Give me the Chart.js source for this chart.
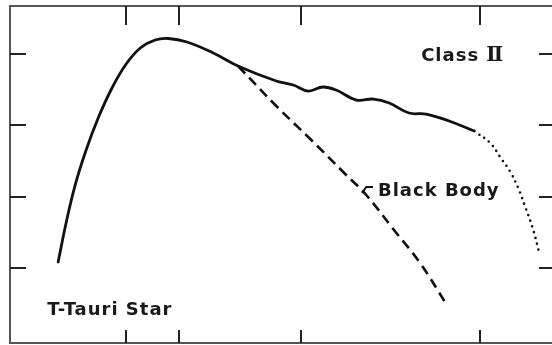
<!DOCTYPE html>
<html>
<head>
<meta charset="utf-8">
<script src="https://cdn.jsdelivr.net/npm/chart.js@4/dist/chart.umd.min.js"></script>
<style>
  html, body { margin: 0; padding: 0; background: #fff; overflow: hidden; }
  #wrap { width: 552px; height: 345px; overflow: hidden; position: relative; }
  #wrap canvas { position: absolute; left: 0; top: 0; }
</style>
</head>
<body>
<div id="wrap"><canvas id="sed" width="562" height="356"></canvas></div>
<script>
// Observed T-Tauri spectral energy distribution (log wavelength, log flux; tick units)
const sedLogLambda = [-0.192, -0.169, -0.144, -0.113, -0.079, -0.040, 0.000, 0.040, 0.082, 0.119,
                      0.172, 0.246, 0.322, 0.424, 0.472, 0.514, 0.556, 0.593, 0.650, 0.698,
                      0.743, 0.799, 0.847, 0.912, 0.983];
const sedLogFlux   = [0.084, 0.645, 1.164, 1.655, 2.104, 2.525, 2.861, 3.086, 3.198, 3.219,
                      3.170, 3.015, 2.819, 2.623, 2.567, 2.482, 2.539, 2.496, 2.356, 2.370,
                      2.314, 2.174, 2.160, 2.062, 1.921];

// Extrapolated far-infrared fall-off (dotted)
const farIrLogLambda = [0.983, 1.028, 1.056, 1.085, 1.107, 1.127, 1.147, 1.161, 1.167];
const farIrLogFlux   = [1.921, 1.753, 1.557, 1.346, 1.122, 0.856, 0.575, 0.323, 0.182];

// Stellar black body (dashed)
const blackBodyLogLambda = [0.316, 0.424, 0.520, 0.613, 0.678, 0.754, 0.828, 0.904];
const blackBodyLogFlux   = [2.833, 2.272, 1.809, 1.346, 1.024, 0.547, 0.084, -0.505];

// Leader from the black-body curve to its label
const leaderLogLambda = [0.666, 0.678, 0.697];
const leaderLogFlux   = [1.052, 1.136, 1.136];

// Tick marks (unlabelled)
const xTickValues = [0, 0.15, 0.494, 1.0];
const yTickValues = [0, 1, 2, 3];

// Annotation texts: [main text, roman numeral suffix]
const noteTexts = [['Class ', '\u2161'], ['Black Body', ''], ['T-Tauri Star', '']];

const toPoints = (xs, ys) => xs.map((v, i) => ({ x: v, y: ys[i] }));

const framePlugin = {
  id: 'frame',
  afterDatasetsDraw(chart, args, opts) {
    const { ctx, chartArea: a, scales: { x, y } } = chart;
    ctx.save();
    // box
    ctx.strokeStyle = opts.frameColor;
    ctx.lineWidth = 2;
    ctx.strokeRect(a.left, a.top, a.right - a.left, a.bottom - a.top);
    // inward ticks
    ctx.strokeStyle = opts.tickColor;
    ctx.lineWidth = 2;
    ctx.beginPath();
    xTickValues.forEach(v => {
      const px = Math.round(x.getPixelForValue(v));
      ctx.moveTo(px, a.top); ctx.lineTo(px, a.top + opts.topTick);
      ctx.moveTo(px, a.bottom); ctx.lineTo(px, a.bottom - opts.bottomTick);
    });
    yTickValues.forEach(v => {
      const py = Math.round(y.getPixelForValue(v));
      ctx.moveTo(a.left, py); ctx.lineTo(a.left + opts.sideTick, py);
      ctx.moveTo(a.right, py); ctx.lineTo(a.right - opts.sideTick, py);
    });
    ctx.stroke();
    // annotations
    ctx.fillStyle = opts.textColor;
    ctx.textAlign = 'left';
    ctx.textBaseline = 'alphabetic';
    noteTexts.forEach(([main, numeral], i) => {
      const at = opts.anchors[i];
      const px = x.getPixelForValue(at[0]);
      const py = y.getPixelForValue(at[1]);
      ctx.font = opts.font;
      ctx.letterSpacing = opts.letterSpacing;
      ctx.fillText(main, px, py);
      if (numeral) {
        const w = ctx.measureText(main).width;
        ctx.font = opts.numeralFont;
        ctx.letterSpacing = '0px';
        ctx.fillText(numeral, px + w, py);
      }
    });
    ctx.restore();
  }
};

new Chart(document.getElementById('sed'), {
  type: 'line',
  data: {
    datasets: [
      {
        label: 'T-Tauri Star',
        data: toPoints(sedLogLambda, sedLogFlux),
        borderColor: '#111',
        borderWidth: 2.8,
        pointRadius: 0,
        tension: 0.4,
        borderCapStyle: 'round'
      },
      {
        label: 'far-IR',
        data: toPoints(farIrLogLambda, farIrLogFlux),
        borderColor: '#111',
        borderWidth: 2.6,
        borderDash: [0, 6],
        borderCapStyle: 'round',
        pointRadius: 0,
        tension: 0.4
      },
      {
        label: 'Black Body',
        data: toPoints(blackBodyLogLambda, blackBodyLogFlux),
        borderColor: '#111',
        borderWidth: 2.6,
        borderDash: [10, 6],
        pointRadius: 0,
        tension: 0.4
      },
      {
        label: 'leader',
        data: toPoints(leaderLogLambda, leaderLogFlux),
        borderColor: '#111',
        borderWidth: 2,
        pointRadius: 0,
        tension: 0
      }
    ]
  },
  options: {
    responsive: false,
    animation: false,
    devicePixelRatio: 1,
    events: [],
    layout: { padding: { left: 10, top: 6, right: 7, bottom: 13 } },
    plugins: {
      legend: { display: false },
      tooltip: { enabled: false },
      frame: {
        frameColor: '#555',
        tickColor: '#222',
        topTick: 19,
        bottomTick: 13,
        sideTick: 16,
        textColor: '#1a1a1a',
        font: 'bold 18px "DejaVu Sans"',
        numeralFont: 'bold 20px "DejaVu Serif"',
        letterSpacing: '1px',
        anchors: [[0.833, 2.903], [0.711, 1.010], [-0.223, -0.659]]
      }
    },
    scales: {
      x: { type: 'linear', display: false, min: -0.328, max: 1.211 },
      y: { type: 'linear', display: false, min: -1.052, max: 3.675 }
    }
  },
  plugins: [framePlugin]
});
</script>
</body>
</html>
